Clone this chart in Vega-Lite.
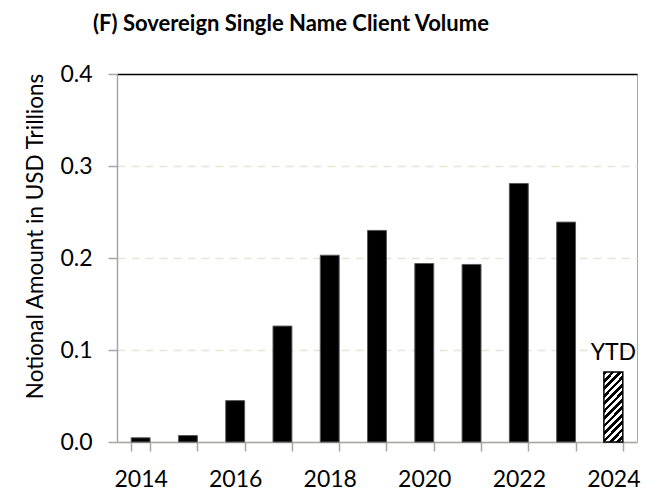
{
  "$schema": "https://vega.github.io/schema/vega-lite/v6.json",
  "width": 520,
  "height": 368,
  "autosize": "none",
  "padding": {"left": 117, "top": 74, "right": 20, "bottom": 51},
  "background": "white",
  "config": {
    "font": "Lato",
    "view": {"stroke": "#a6a6a6", "strokeWidth": 1}
  },
  "title": {
    "text": "(F) Sovereign Single Name Client Volume",
    "font": "Lato",
    "fontSize": 22,
    "fontWeight": "bold",
    "color": "black",
    "anchor": "start",
    "frame": "group",
    "dx": -24,
    "offset": 27
  },
  "data": {
    "values": [
      {"year": 2014, "value": 0.0046, "kind": "Annual"},
      {"year": 2015, "value": 0.007, "kind": "Annual"},
      {"year": 2016, "value": 0.045, "kind": "Annual"},
      {"year": 2017, "value": 0.126, "kind": "Annual"},
      {"year": 2018, "value": 0.203, "kind": "Annual"},
      {"year": 2019, "value": 0.230, "kind": "Annual"},
      {"year": 2020, "value": 0.194, "kind": "Annual"},
      {"year": 2021, "value": 0.193, "kind": "Annual"},
      {"year": 2022, "value": 0.281, "kind": "Annual"},
      {"year": 2023, "value": 0.239, "kind": "Annual"},
      {"year": 2024, "value": 0.076, "kind": "YTD"}
    ]
  },
  "encoding": {
    "x": {
      "field": "year",
      "type": "ordinal",
      "scale": {"paddingInner": 0.6, "paddingOuter": 0.3},
      "axis": {
        "title": null,
        "labelExpr": "datum.value % 2 == 0 ? datum.label : ''",
        "labelAngle": 0,
        "labelFontSize": 23,
        "labelColor": "black",
        "labelPadding": 17,
        "labelOverlap": false,
        "tickBand": "extent",
        "tickSize": 9,
        "tickColor": "#a6a6a6",
        "tickWidth": 1.5,
        "domainColor": "#a6a6a6",
        "domainWidth": 1.5
      }
    },
    "y": {
      "field": "value",
      "type": "quantitative",
      "scale": {"domain": [0, 0.4]},
      "axis": {
        "title": "Notional Amount in USD Trillions",
        "titleFontSize": 22.5,
        "titleFontWeight": "normal",
        "titleColor": "black",
        "titleX": -75,
        "titleY": 162,
        "titleBaseline": "alphabetic",
        "titleAlign": "center",
        "titleAngle": -90,
        "values": [0, 0.1, 0.2, 0.3, 0.4],
        "format": ".1f",
        "labelFontSize": 23,
        "labelColor": "black",
        "labelPadding": 16,
        "tickSize": 9,
        "tickColor": "#a6a6a6",
        "tickWidth": 1.5,
        "domainColor": "#a6a6a6",
        "domainWidth": 1.5,
        "grid": true,
        "gridColor": {"condition": {"test": "datum.value >= 0.39", "value": "black"}, "value": "#e8e4d6"},
        "gridDash": {"condition": {"test": "datum.value >= 0.39 || datum.value == 0", "value": []}, "value": [8, 6]},
        "gridWidth": 1.5
      }
    }
  },
  "layer": [
    {
      "transform": [{"filter": "datum.kind == 'Annual'"}],
      "mark": {"type": "bar", "fill": "black", "stroke": "#595959", "strokeWidth": 1}
    },
    {
      "transform": [{"filter": "datum.kind == 'YTD'"}],
      "mark": {
        "type": "bar",
        "stroke": "black",
        "strokeWidth": 1.5,
        "fill": {
          "gradient": "linear",
          "x1": 0, "y1": 0, "x2": 0.33, "y2": 1.19,
          "stops": [
            {"offset": 0, "color": "black"}, {"offset": 0.0417, "color": "black"},
            {"offset": 0.0417, "color": "white"}, {"offset": 0.0833, "color": "white"},
            {"offset": 0.0833, "color": "black"}, {"offset": 0.125, "color": "black"},
            {"offset": 0.125, "color": "white"}, {"offset": 0.1667, "color": "white"},
            {"offset": 0.1667, "color": "black"}, {"offset": 0.2083, "color": "black"},
            {"offset": 0.2083, "color": "white"}, {"offset": 0.25, "color": "white"},
            {"offset": 0.25, "color": "black"}, {"offset": 0.2917, "color": "black"},
            {"offset": 0.2917, "color": "white"}, {"offset": 0.3333, "color": "white"},
            {"offset": 0.3333, "color": "black"}, {"offset": 0.375, "color": "black"},
            {"offset": 0.375, "color": "white"}, {"offset": 0.4167, "color": "white"},
            {"offset": 0.4167, "color": "black"}, {"offset": 0.4583, "color": "black"},
            {"offset": 0.4583, "color": "white"}, {"offset": 0.5, "color": "white"},
            {"offset": 0.5, "color": "black"}, {"offset": 0.5417, "color": "black"},
            {"offset": 0.5417, "color": "white"}, {"offset": 0.5833, "color": "white"},
            {"offset": 0.5833, "color": "black"}, {"offset": 0.625, "color": "black"},
            {"offset": 0.625, "color": "white"}, {"offset": 0.6667, "color": "white"},
            {"offset": 0.6667, "color": "black"}, {"offset": 0.7083, "color": "black"},
            {"offset": 0.7083, "color": "white"}, {"offset": 0.75, "color": "white"},
            {"offset": 0.75, "color": "black"}, {"offset": 0.7917, "color": "black"},
            {"offset": 0.7917, "color": "white"}, {"offset": 0.8333, "color": "white"},
            {"offset": 0.8333, "color": "black"}, {"offset": 0.875, "color": "black"},
            {"offset": 0.875, "color": "white"}, {"offset": 0.9167, "color": "white"},
            {"offset": 0.9167, "color": "black"}, {"offset": 0.9583, "color": "black"},
            {"offset": 0.9583, "color": "white"}, {"offset": 1, "color": "white"}
          ]
        }
      }
    },
    {
      "transform": [{"filter": "datum.kind == 'YTD'"}],
      "mark": {"type": "text", "baseline": "alphabetic", "dy": -12, "fontSize": 23, "color": "black"},
      "encoding": {"text": {"field": "kind"}}
    }
  ]
}
